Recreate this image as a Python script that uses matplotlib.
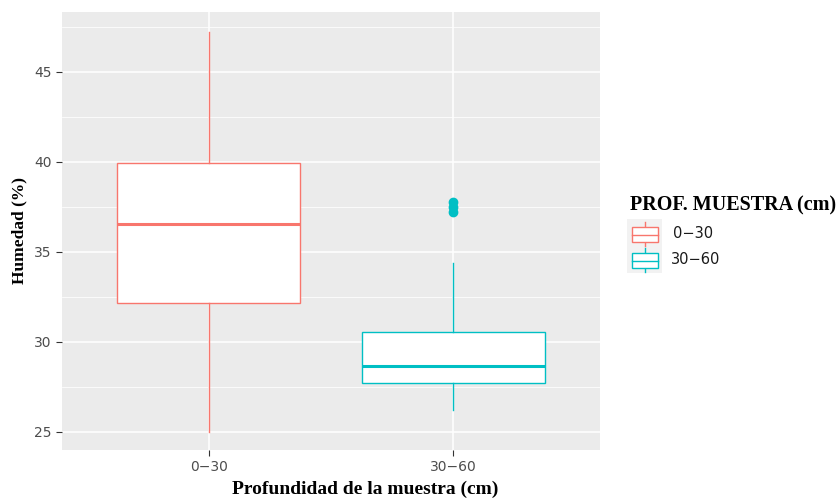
import matplotlib
matplotlib.use("Agg")
import matplotlib.pyplot as plt
from matplotlib.lines import Line2D
from matplotlib.patches import Rectangle

categorias = ["0\u221230", "30\u221260"]
colores = ["#F8766D", "#00BFC4"]
# estadisticos de cada caja
bigote_inf = [25.0, 26.2]
q1 = [32.15, 27.72]
mediana = [36.55, 28.67]
q3 = [39.95, 30.55]
bigote_sup = [47.2, 34.4]
atipicos = [[], [37.2, 37.5, 37.75]]

serif = "Liberation Serif"
sans = "DejaVu Sans"

fig = plt.figure(figsize=(8.4, 4.99), dpi=100)
ax = fig.add_axes([62/840, 1-450/499, 538/840, 438/499])
ax.set_facecolor("#EBEBEB")

stats = []
for i in range(len(categorias)):
    stats.append(dict(whislo=bigote_inf[i], q1=q1[i], med=mediana[i], q3=q3[i],
                      whishi=bigote_sup[i], fliers=atipicos[i], label=categorias[i]))

bp = ax.bxp(stats, positions=[1, 2], widths=0.75, patch_artist=True,
            showcaps=False, manage_ticks=False)
for i in range(len(categorias)):
    c = colores[i]
    bp["boxes"][i].set(facecolor="white", edgecolor=c, linewidth=1.0, zorder=3)
    bp["medians"][i].set(color=c, linewidth=2.2, zorder=4)
    for w in bp["whiskers"][2*i:2*i+2]:
        w.set(color=c, linewidth=1.0, zorder=3)
    bp["fliers"][i].set(marker="o", markerfacecolor=c, markeredgecolor=c,
                        markersize=6, zorder=4)

ax.set_xlim(0.4, 2.6)
ax.set_ylim(24.0, 48.33)
ax.set_yticks([25, 30, 35, 40, 45])
ax.set_yticks([27.5, 32.5, 37.5, 42.5, 47.5], minor=True)
ax.set_xticks([1, 2])
ax.set_xticklabels(categorias)
ax.grid(which="major", color="white", linewidth=1.1)
ax.grid(which="minor", axis="y", color="white", linewidth=0.55)
ax.set_axisbelow(True)
for s in ax.spines.values():
    s.set_visible(False)
ax.tick_params(which="major", length=4, color="#333333", labelcolor="#4D4D4D",
               labelsize=10)
ax.tick_params(which="minor", length=0)

ax.set_ylabel("Humedad (%)", fontfamily=serif, fontweight="bold", fontsize=12.5,
              labelpad=5)
fig.text(365/840, 1-489/499, "Profundidad de la muestra (cm)", fontfamily=serif,
         fontweight="bold", fontsize=14, ha="center", va="center")

# leyenda
fig.text(630/840, 1-205/499, "PROF. MUESTRA (cm)", fontfamily=serif,
         fontweight="bold", fontsize=14.5, va="center", ha="left")
lax = fig.add_axes([0, 0, 1, 1])
lax.set_xlim(0, 840)
lax.set_ylim(499, 0)
lax.axis("off")
lax.add_patch(Rectangle((627, 219), 35, 54, facecolor="#F2F2F2", edgecolor="none",
                        zorder=0))
for i in range(len(categorias)):
    y0 = 220 + i*26
    c = colores[i]
    lax.add_line(Line2D([645, 645], [y0+2, y0+26], color=c, linewidth=1.0, zorder=1))
    lax.add_patch(Rectangle((632, y0+7), 26, 15, facecolor="white", edgecolor=c,
                            linewidth=1.0, zorder=2))
    lax.add_line(Line2D([632, 658], [y0+14.5, y0+14.5], color=c, linewidth=1.0,
                        zorder=3))
    lax.text(673 - 2*i, y0+13, categorias[i], fontfamily=sans, fontsize=10.5,
             color="#1A1A1A", va="center", ha="left")

fig.savefig("out.png", dpi=100)
